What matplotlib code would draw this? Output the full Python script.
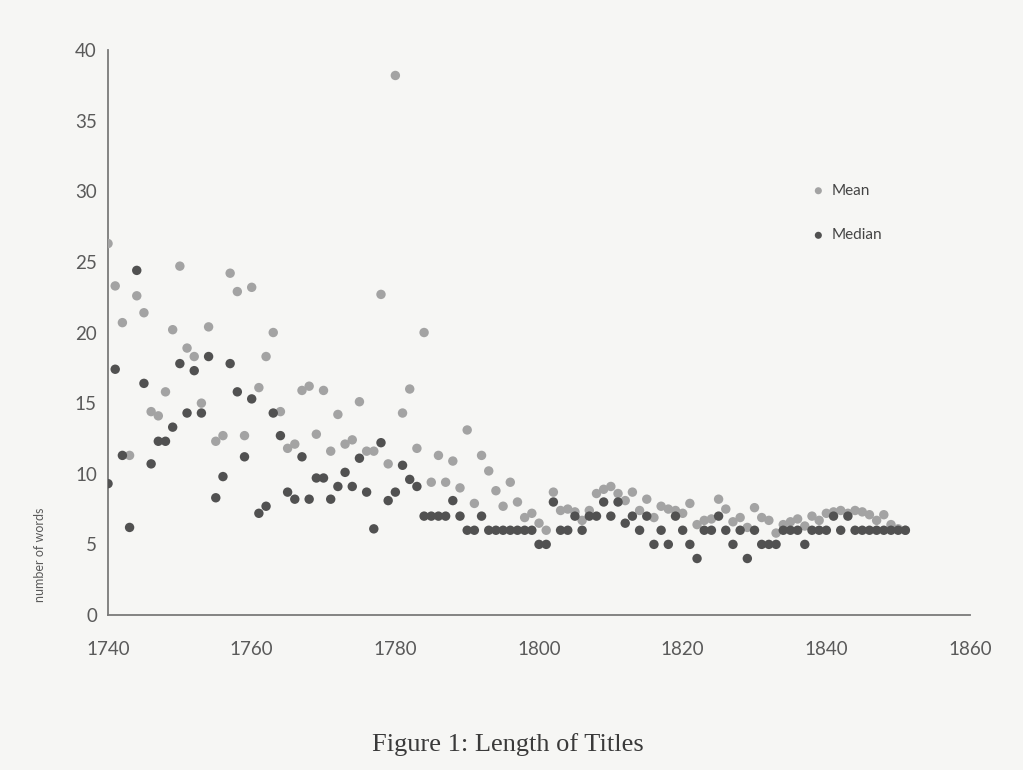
import numpy as np
import matplotlib
matplotlib.use("Agg")
import matplotlib.pyplot as plt

# one value per year, 1740-1851
years = np.arange(1740, 1852)

mean_words = [
    26.3, 23.3, 20.7, 11.3, 22.6, 21.4, 14.4, 14.1, 15.8, 20.2,   # 1740s
    24.7, 18.9, 18.3, 15.0, 20.4, 12.3, 12.7, 24.2, 22.9, 12.7,   # 1750s
    23.2, 16.1, 18.3, 20.0, 14.4, 11.8, 12.1, 15.9, 16.2, 12.8,   # 1760s
    15.9, 11.6, 14.2, 12.1, 12.4, 15.1, 11.6, 11.6, 22.7, 10.7,   # 1770s
    38.2, 14.3, 16.0, 11.8, 20.0, 9.4, 11.3, 9.4, 10.9, 9.0,      # 1780s
    13.1, 7.9, 11.3, 10.2, 8.8, 7.7, 9.4, 8.0, 6.9, 7.2,          # 1790s
    6.5, 6.0, 8.7, 7.4, 7.5, 7.3, 6.7, 7.4, 8.6, 8.9,             # 1800s
    9.1, 8.6, 8.1, 8.7, 7.4, 8.2, 6.9, 7.7, 7.5, 7.4,             # 1810s
    7.2, 7.9, 6.4, 6.7, 6.8, 8.2, 7.5, 6.6, 6.9, 6.2,             # 1820s
    7.6, 6.9, 6.7, 5.8, 6.4, 6.6, 6.8, 6.3, 7.0, 6.7,             # 1830s
    7.2, 7.3, 7.4, 7.2, 7.4, 7.3, 7.1, 6.7, 7.1, 6.4,             # 1840s
    6.1, 6.0,                                                     # 1850-51
]

median_words = [
    9.3, 17.4, 11.3, 6.2, 24.4, 16.4, 10.7, 12.3, 12.3, 13.3,     # 1740s
    17.8, 14.3, 17.3, 14.3, 18.3, 8.3, 9.8, 17.8, 15.8, 11.2,     # 1750s
    15.3, 7.2, 7.7, 14.3, 12.7, 8.7, 8.2, 11.2, 8.2, 9.7,         # 1760s
    9.7, 8.2, 9.1, 10.1, 9.1, 11.1, 8.7, 6.1, 12.2, 8.1,          # 1770s
    8.7, 10.6, 9.6, 9.1, 7, 7, 7, 7, 8.1, 7,                      # 1780s
    6, 6, 7, 6, 6, 6, 6, 6, 6, 6,                                 # 1790s
    5, 5, 8, 6, 6, 7, 6, 7, 7, 8,                                 # 1800s
    7, 8, 6.5, 7, 6, 7, 5, 6, 5, 7,                               # 1810s
    6, 5, 4, 6, 6, 7, 6, 5, 6, 4,                                 # 1820s
    6, 5, 5, 5, 6, 6, 6, 5, 6, 6,                                 # 1830s
    6, 7, 6, 7, 6, 6, 6, 6, 6, 6,                                 # 1840s
    6, 6,                                                         # 1850-51
]

x_ticks = [1740, 1760, 1780, 1800, 1820, 1840, 1860]
y_ticks = [0, 5, 10, 15, 20, 25, 30, 35, 40]

paper = '#f6f6f4'
txt = '#5a5a5a'

fig = plt.figure(figsize=(10.23, 7.7), dpi=100)
fig.patch.set_facecolor(paper)
ax = fig.add_axes([0.1056, 0.2013, 0.8426, 0.7337])
ax.set_facecolor(paper)

ax.scatter(years, mean_words, s=46, color='#a3a3a3', edgecolors='none',
           label='Mean', zorder=3)
ax.scatter(years, median_words, s=46, color='#515151', edgecolors='none',
           label='Median', zorder=3)

ax.set_xlim(1740, 1860)
ax.set_ylim(0, 40)
ax.set_xticks(x_ticks)
ax.set_yticks(y_ticks)
ax.tick_params(length=0, labelsize=13.5, labelcolor=txt)
for lbl in ax.get_xticklabels() + ax.get_yticklabels():
    lbl.set_family('Lato')
ax.tick_params(axis='x', pad=19)
ax.tick_params(axis='y', pad=8)

for side in ['top', 'right']:
    ax.spines[side].set_visible(False)
for side in ['left', 'bottom']:
    ax.spines[side].set_color('#7a7a7a')
    ax.spines[side].set_linewidth(1.3)

fig.text(40 / 1023, 1 - 555 / 770, 'number of words', rotation=90,
         ha='center', va='center', fontsize=9, color=txt, family='Lato')

leg = ax.legend(loc='upper left', bbox_to_anchor=(800 / 1023, 1 - 170 / 770),
                bbox_transform=fig.transFigure, frameon=False,
                handlelength=0.6, handletextpad=0.6, labelspacing=2.0,
                scatterpoints=1, markerscale=0.75,
                prop={'family': 'Lato', 'size': 11})
for t in leg.get_texts():
    t.set_color('#444444')

fig.text(508 / 1023, 1 - 745 / 770, 'Figure 1: Length of Titles',
         ha='center', va='center', fontsize=19, color='#3a3a3a',
         family='Liberation Serif')

plt.savefig('out.png', dpi=100, facecolor=paper)
plt.close()
